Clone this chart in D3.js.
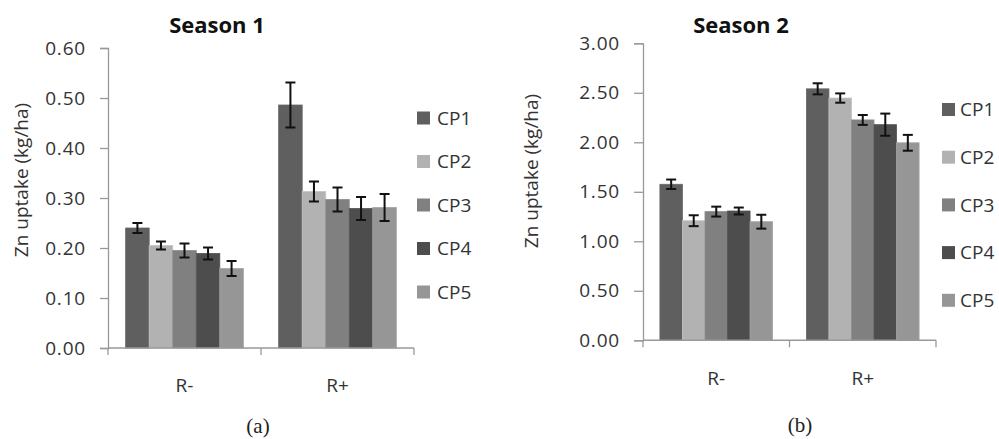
<!DOCTYPE html>
<html><head><meta charset="utf-8">
<script src="https://cdn.jsdelivr.net/npm/d3@7"></script>
<style>body{margin:0;background:#fff}svg{display:block}</style>
</head><body>
<svg id="c" width="999" height="439"></svg>
<script>
const categories = ["R-", "R+"];
const series = ["CP1", "CP2", "CP3", "CP4", "CP5"];
const colors = ["#5f5f5f", "#b2b2b2", "#808080", "#4d4d4d", "#969696"];
// Season 1 values [R-, R+] per series
const s1Values = [[0.240, 0.486], [0.205, 0.313], [0.195, 0.297], [0.189, 0.279], [0.159, 0.281]];
const s1Errors = [[0.010, 0.045], [0.008, 0.020], [0.014, 0.024], [0.012, 0.023], [0.015, 0.027]];
const s1Ticks = [0, 0.1, 0.2, 0.3, 0.4, 0.5, 0.6];
// Season 2
const s2Values = [[1.576, 2.540], [1.208, 2.447], [1.300, 2.226], [1.306, 2.178], [1.198, 1.995]];
const s2Errors = [[0.048, 0.056], [0.055, 0.047], [0.050, 0.050], [0.035, 0.112], [0.070, 0.080]];
const s2Ticks = [0, 0.5, 1.0, 1.5, 2.0, 2.5, 3.0];

const svg = d3.select("#c");
const font = "'Open Sans', sans-serif";

function panel(cfg) {
  const g = svg.append("g");
  const y = d3.scaleLinear().domain(cfg.domain).range([cfg.y0, cfg.y1]);
  const x0 = d3.scaleBand().domain(categories).range([cfg.x0, cfg.x1]).padding(0);
  const bw = x0.bandwidth();
  const gap = bw * 0.75 / 6.5;
  const x1 = d3.scaleBand().domain(series).range([gap, bw - gap]).padding(0);

  // y axis
  const ya = d3.axisLeft(y).tickValues(cfg.ticks).tickFormat(d3.format(".2f"))
    .tickSize(cfg.tickSize).tickPadding(cfg.tickPad);
  const yg = g.append("g").attr("transform", `translate(${cfg.x0},0)`).call(ya);
  yg.select(".domain").attr("stroke", "#999").attr("stroke-width", 1.3);
  yg.selectAll(".tick line").attr("stroke", "#999").attr("stroke-width", 1.3);
  yg.selectAll(".tick text").attr("font-family", font).attr("font-size", 19)
    .attr("fill", "#333").attr("letter-spacing", 0.8);

  // bars
  series.forEach((s, i) => {
    const vals = cfg.values[i];
    categories.forEach((c, j) => {
      const bx = x0(c) + x1(s);
      g.append("rect").attr("x", bx).attr("width", x1.bandwidth())
        .attr("y", y(vals[j])).attr("height", y(0) - y(vals[j]))
        .attr("fill", colors[i]).attr("stroke", d3.color(colors[i]).brighter(0.25)).attr("stroke-width", 0.8);
    });
  });
  // error bars
  series.forEach((s, i) => {
    const vals = cfg.values[i], errs = cfg.errors[i];
    categories.forEach((c, j) => {
      const cx = x0(c) + x1(s) + x1.bandwidth() / 2;
      const hi = y(vals[j] + errs[j]), lo = y(vals[j] - errs[j]);
      const eg = g.append("g").attr("stroke", "#111").attr("stroke-width", 2);
      eg.append("line").attr("x1", cx).attr("x2", cx).attr("y1", hi).attr("y2", lo);
      eg.append("line").attr("x1", cx - 5).attr("x2", cx + 5).attr("y1", hi).attr("y2", hi);
      eg.append("line").attr("x1", cx - 5).attr("x2", cx + 5).attr("y1", lo).attr("y2", lo);
    });
  });

  // x axis
  g.append("line").attr("x1", cfg.x0).attr("x2", cfg.x1).attr("y1", y(0)).attr("y2", y(0))
    .attr("stroke", "#999").attr("stroke-width", 1.5);
  const edges = [cfg.x0].concat(categories.map(c => x0(c) + bw));
  edges.forEach(e => g.append("line").attr("x1", e).attr("x2", e).attr("y1", y(0)).attr("y2", y(0) + 7)
    .attr("stroke", "#999").attr("stroke-width", 1.3));
  categories.forEach(c => g.append("text").attr("x", x0(c) + bw / 2).attr("y", cfg.xlabY)
    .attr("text-anchor", "middle").attr("font-family", font).attr("font-size", 19).attr("fill", "#333").text(c));

  // title
  g.append("text").attr("x", cfg.titleX).attr("y", 33).attr("text-anchor", "middle")
    .attr("font-family", font).attr("font-weight", "bold").attr("font-size", 22).attr("fill", "#111").text(cfg.title);
  // y title
  g.append("text").attr("transform", `translate(${cfg.ytX},${cfg.ytY}) rotate(-90)`)
    .attr("text-anchor", "middle").attr("font-family", font).attr("font-size", 19).attr("fill", "#333")
    .text("Zn uptake (kg/ha)");
  // legend
  series.forEach((s, i) => {
    const ly = cfg.legY + i * cfg.legStep;
    g.append("rect").attr("x", cfg.legX).attr("y", ly - 6.5).attr("width", 13).attr("height", 13).attr("fill", colors[i]);
    g.append("text").attr("x", cfg.legX + cfg.legTx).attr("y", ly).attr("dy", "0.35em")
      .attr("font-family", font).attr("font-size", 19).attr("fill", "#333").text(s);
  });
  // caption
  g.append("text").attr("x", cfg.capX).attr("y", cfg.capY).attr("text-anchor", "middle")
    .attr("font-family", "'Liberation Serif', 'DejaVu Serif', serif").attr("font-size", 21).attr("fill", "#222").text(cfg.caption);
}

panel({domain: [0, 0.6], y0: 348, y1: 48, x0: 108, x1: 414, ticks: s1Ticks, tickSize: 8, tickPad: 14,
  values: s1Values, errors: s1Errors, xlabY: 392, title: "Season 1", titleX: 217, ytX: 28, ytY: 180,
  legX: 417, legY: 118, legStep: 43.5, legTx: 20, caption: "(a)", capX: 258, capY: 433});
panel({domain: [0, 3], y0: 340.3, y1: 43.3, x0: 643, x1: 936, ticks: s2Ticks, tickSize: 9, tickPad: 14,
  values: s2Values, errors: s2Errors, xlabY: 385, title: "Season 2", titleX: 741, ytX: 538, ytY: 171,
  legX: 942, legY: 109.5, legStep: 47.7, legTx: 18, caption: "(b)", capX: 800, capY: 432});
</script>
</body></html>
